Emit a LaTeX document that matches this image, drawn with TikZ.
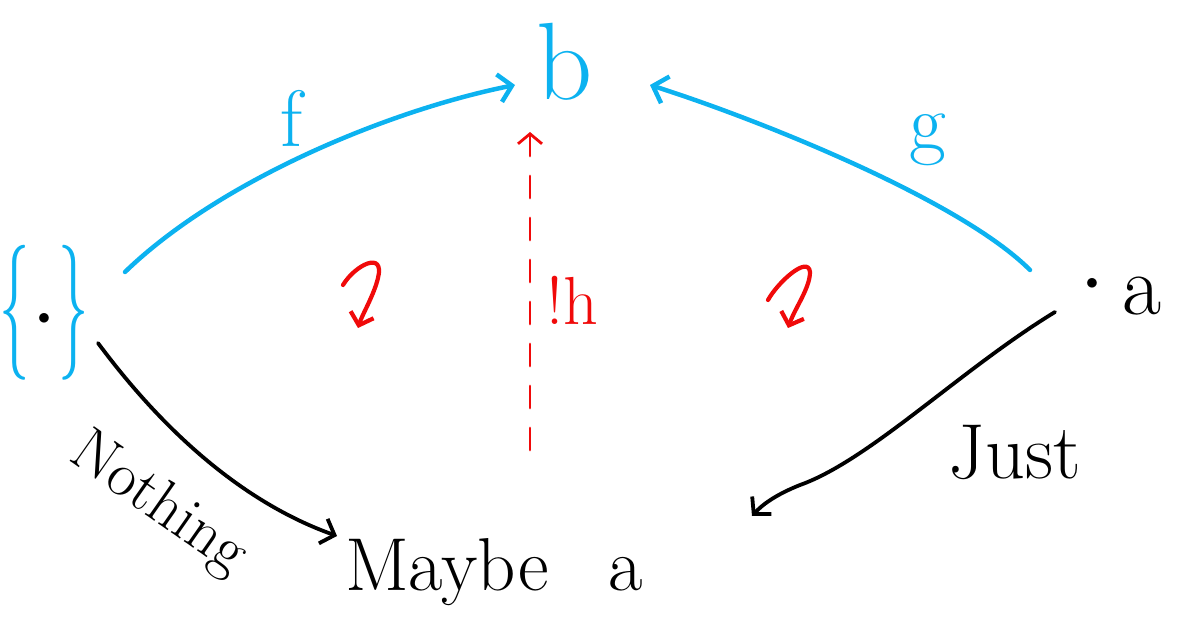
\documentclass[tikz,border=0pt]{standalone}
\usetikzlibrary{arrows.meta}
\definecolor{inkcyan}{RGB}{12,178,240}
\definecolor{inkred}{RGB}{240,10,10}
\tikzset{
  lbl/.style={inner sep=0pt, font=\fontsize{70}{70}\selectfont},
  cyanarrow/.style={draw=inkcyan, line width=4.5pt, line cap=round, -{Straight Barb[length=13pt,width=28pt,line width=4.5pt]}},
  blackarrow/.style={draw=black, line width=3.8pt, line cap=round, -{Straight Barb[length=12pt,width=26pt,line width=3.8pt]}},
  redarrow/.style={draw=inkred, line width=2.8pt, line cap=round, -{Straight Barb[length=10pt,width=24pt,line width=2.8pt]}},
  commute/.style={draw=inkred, line width=4.2pt, line cap=round, -{Straight Barb[length=11pt,width=24pt,line width=4.2pt]}}
}
\begin{document}
\begin{tikzpicture}[x=1pt,y=-1pt]
\useasboundingbox (0,0) rectangle (1192,628);
% nodes
\node[lbl, text=inkcyan, font=\fontsize{135}{135}\selectfont] (unit) at (44,313) {\scalebox{0.45}[1]{\{}\hspace{8pt}\raisebox{22pt}{\textcolor{black}{\fontsize{70}{70}\selectfont$\bullet$}}\hspace{8pt}\scalebox{0.45}[1]{\}}};
\node[lbl, text=inkcyan, font=\fontsize{110}{110}\selectfont] (b) at (565,62) {b};
\node[lbl, font=\fontsize{40}{40}\selectfont] (adot) at (1092,284) {$\bullet$};
\node[lbl, font=\fontsize{85}{85}\selectfont] (a) at (1142,296) {a};
\node[lbl, anchor=base west, font=\fontsize{75}{75}\selectfont] (maybe) at (345,590) {Maybe\hspace{60pt}a};
% coordinates
\coordinate (fs) at (125,272);
\coordinate (fe) at (515,85);
\coordinate (gs) at (1030,270);
\coordinate (ge) at (650,85);
\coordinate (hs) at (530,450);
\coordinate (he) at (530,132);
\coordinate (ns) at (98,343);
\coordinate (ne) at (337,536);
\coordinate (js) at (1055,312);
\coordinate (je) at (752,516);
% connectors
\draw[cyanarrow] (fs) .. controls (220,180) and (390,110) .. (fe);
\node[lbl, text=inkcyan, font=\fontsize{80}{80}\selectfont] (flab) at (292,118) {f};
\draw[cyanarrow] (gs) .. controls (960,200) and (760,120) .. (ge);
\node[lbl, text=inkcyan, font=\fontsize{80}{80}\selectfont] (glab) at (928,140) {g};
\draw[redarrow, dash pattern=on 22pt off 20pt] (hs) -- (he);
\node[lbl, text=inkred, font=\fontsize{68}{68}\selectfont] (hlab) at (572,300) {!h};
\draw[blackarrow] (ns) .. controls (170,440) and (250,505) .. (ne);
\node[lbl, rotate=-35, font=\fontsize{62}{62}\selectfont] (nlab) at (158,505) {Nothing};
\draw[blackarrow] (js) .. controls (960,370) and (870,460) .. (800,485) .. controls (775,495) and (762,505) .. (je);
\node[lbl, font=\fontsize{78}{78}\selectfont] (jlab) at (1015,452) {Just};
% commutation marks
\draw[commute] (343,285) .. controls (355,265) and (385,250) .. (378,278) .. controls (374,295) and (362,315) .. (358,328);
\draw[commute] (768,300) .. controls (778,282) and (808,255) .. (810,272) .. controls (810,288) and (795,308) .. (788,328);
\end{tikzpicture}
\end{document}
